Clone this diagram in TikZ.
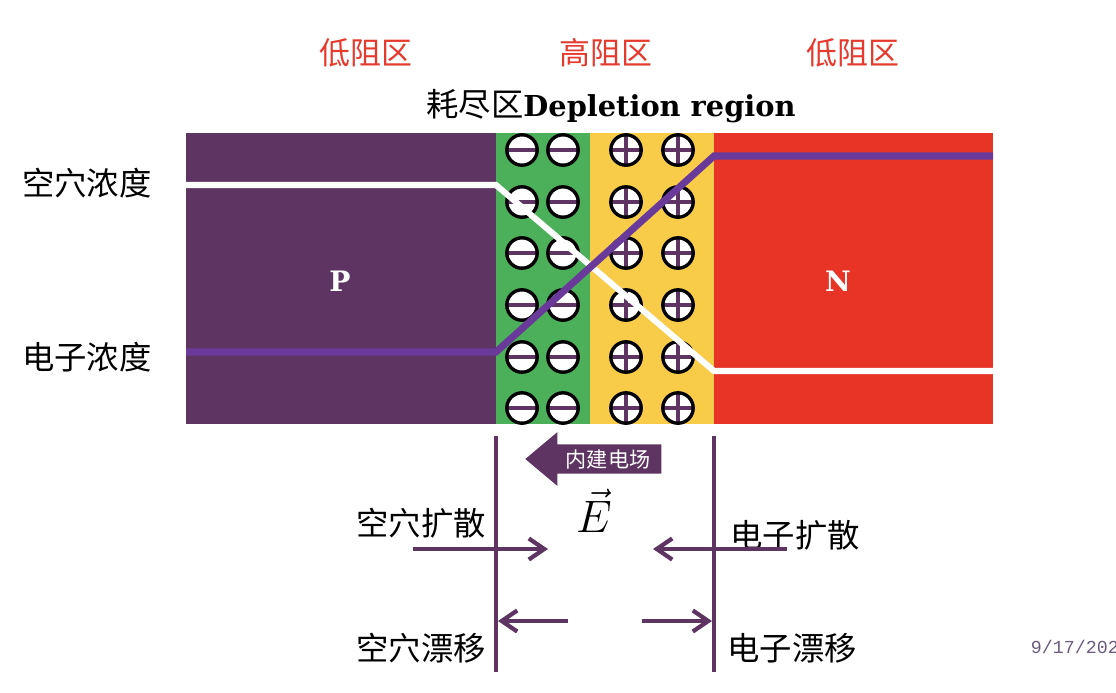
\documentclass[tikz,border=0pt]{standalone}
\usepackage{fontspec}
\newfontfamily\cjk{Noto Sans CJK SC}
\newfontfamily\slab{DejaVu Serif}
\newfontfamily\datefont{Liberation Mono}
\usetikzlibrary{arrows.meta,shapes.arrows,positioning}

\definecolor{pdark}{HTML}{5E3462}
\definecolor{pviolet}{HTML}{6A3A9A}
\definecolor{dgreen}{HTML}{4CAF5A}
\definecolor{dyellow}{HTML}{F8CC48}
\definecolor{nred}{HTML}{E83426}
\definecolor{lblred}{HTML}{E53B2F}
\definecolor{dategray}{HTML}{6C5A7C}

\tikzset{
    ion/.style={circle, draw=black, line width=2.4pt, fill=white, minimum size=0.76cm, inner sep=0pt},
    negion/.style={ion, path picture={
        \draw[pdark, line width=2.6pt] (path picture bounding box.west) -- (path picture bounding box.east);}},
    posion/.style={ion, path picture={
        \draw[pdark, line width=2.6pt] (path picture bounding box.west) -- (path picture bounding box.east);
        \draw[pdark, line width=2.6pt] (path picture bounding box.north) -- (path picture bounding box.south);}},
    zone/.style={font=\cjk\fontsize{22}{24}\selectfont, text=lblred},
    lbl/.style={font=\cjk\fontsize{23}{25}\selectfont, inner sep=0pt},
    flow/.style={pdark, line width=3pt, -{Straight Barb[length=11pt, width=15pt, line width=3pt]}},
}

\begin{document}
\begin{tikzpicture}[x=0.025cm, y=-0.025cm]
    \useasboundingbox (0,0) rectangle (1116,692);
    \clip (0,0) rectangle (1116,692);

    % 区域
    \fill[pdark] (186,133) rectangle (496,424);
    \fill[dgreen] (496,133) rectangle (590,424);
    \fill[dyellow] (590,133) rectangle (714,424);
    \fill[nred] (714,133) rectangle (993,424);

    \node[font=\slab\bfseries\fontsize{20}{22}\selectfont, text=white] (p) at (340,281) {P};
    \node[font=\slab\bfseries\fontsize{20}{22}\selectfont, text=white] (n) at (838,281) {N};

    % 离子
    \foreach \y [count=\i] in {150,202,253,305,357,408} {
        \node[negion] (m1-\i) at (522,\y) {};
        \node[negion] (m2-\i) at (563,\y) {};
        \node[posion] (q1-\i) at (626,\y) {};
        \node[posion] (q2-\i) at (678,\y) {};
    }

    % 浓度曲线
    \coordinate (h0) at (186,185);
    \coordinate (h1) at (496,185);
    \coordinate (h2) at (714,371);
    \coordinate (h3) at (993,371);
    \coordinate (e0) at (186,352);
    \coordinate (e1) at (496,352);
    \coordinate (e2) at (714,156);
    \coordinate (e3) at (993,156);
    \draw[white, line width=4.3pt] (h0) -- (h1) -- (h2) -- (h3);
    \draw[pviolet, line width=5pt] (e0) -- (e1) -- (e2) -- (e3);

    % 标题
    \node[zone] (z1) at (366,53) {低阻区};
    \node[zone] (z2) at (606,53) {高阻区};
    \node[zone] (z3) at (853,53) {低阻区};
    \node (dep) at (611,106) {{\cjk\fontsize{23}{25}\selectfont 耗尽区}{\slab\bfseries\fontsize{20.5}{22}\selectfont Depletion region}};

    \node[lbl, anchor=west] (hc) at (22,183) {空穴浓度};
    \node[lbl, anchor=west] (ec) at (22,357) {电子浓度};

    % 边界线
    \coordinate (lt) at (496,436);
    \coordinate (lb) at (496,672);
    \coordinate (rt) at (714,436);
    \coordinate (rb) at (714,672);
    \draw[pdark, line width=3pt] (lt) -- (lb);
    \draw[pdark, line width=3pt] (rt) -- (rb);

    % 内建电场
    \node[single arrow, shape border rotate=180, fill=pdark, text=white,
          font=\cjk\fontsize{15}{16}\selectfont, minimum height=3.4cm, minimum width=1.35cm,
          single arrow head extend=0.3cm, single arrow tip angle=80, inner ysep=3.5pt,
          inner xsep=0pt, text depth=0pt] (field) at (602,459) {\hspace*{0.3cm}内建电场};
    \node[inner sep=0pt, font=\fontsize{24.88}{27}\selectfont] (evec) at (594,511) {\scalebox{1.3}{$\vec{E}$}};

    % 扩散与漂移
    \node[lbl] (hd) at (421,523) {空穴扩散};
    \node[lbl] (hdr) at (421,648) {空穴漂移};
    \node[lbl] (ed) at (795,535) {电子扩散};
    \node[lbl] (edr) at (792,648) {电子漂移};

    \coordinate (hd0) at (413,549);
    \coordinate (hd1) at (548,549);
    \coordinate (ed0) at (787,549);
    \coordinate (ed1) at (653,549);
    \coordinate (hr0) at (568,621);
    \coordinate (hr1) at (498,621);
    \coordinate (er0) at (642,621);
    \coordinate (er1) at (712,621);
    \draw[flow] (hd0) -- (hd1);
    \draw[flow] (ed0) -- (ed1);
    \draw[flow] (hr0) -- (hr1);
    \draw[flow] (er0) -- (er1);

    % 日期
    \node[anchor=west, font=\datefont\fontsize{13}{14}\selectfont, text=dategray] (date) at (1026,647) {9/17/2021};
\end{tikzpicture}
\end{document}
